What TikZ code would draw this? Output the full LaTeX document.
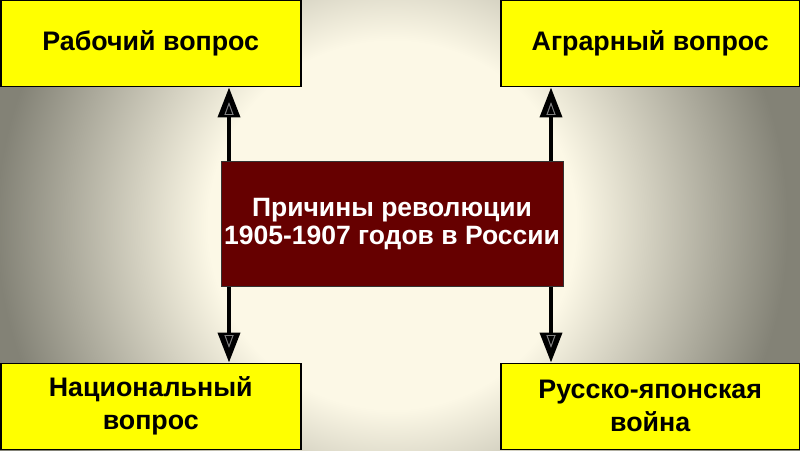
\documentclass[tikz,border=0pt]{standalone}
\usepackage{fontspec}
\setmainfont{Liberation Sans}
\usetikzlibrary{arrows.meta,calc}
\definecolor{boxyellow}{HTML}{FFFF00}
\definecolor{causered}{HTML}{660000}
\definecolor{bgcream}{HTML}{FCF8E6}
\definecolor{bggray}{HTML}{838276}
\pgfdeclareradialshading{slidebg}{\pgfpoint{0bp}{0bp}}{color(0bp)=(bgcream); color(10bp)=(bgcream); color(21.5bp)=(bggray); color(50bp)=(bggray)}

\begin{document}
\begin{tikzpicture}[x=1pt,y=1pt,
    issue/.style={draw=black, line width=1.5pt, fill=boxyellow, minimum width=300pt,
      minimum height=86pt, inner sep=0pt, align=center,
      font=\fontsize{26.8}{33}\selectfont\bfseries},
    cause/.style={draw=black!80, line width=1pt, fill=causered, text=white,
      minimum width=342pt, minimum height=125pt, inner sep=0pt, align=center,
      font=\fontsize{26.5}{28}\selectfont\bfseries},
    link/.style={line width=4pt, -{Triangle[width=22pt,length=30pt]}},
    hollow/.style={draw=gray, line width=0.7pt}]
  \useasboundingbox (0,0) rectangle (800,450);
  % background
  \begin{scope}
    \clip (0,0) rectangle (800,450);
    \shade[shading=slidebg] (-68,-235) rectangle (852,685);
  \end{scope}

  % boxes
  \node[cause] (cause) at (392,225.5) {Причины революции\\1905-1907 годов в России};
  \node[issue, anchor=north west] (work) at (0,450) {Рабочий вопрос};
  \node[issue, anchor=north west, minimum width=299pt] (land) at (500,450) {Аграрный вопрос};
  \node[issue, anchor=south west] (natl) at (0,0) {Национальный\\вопрос};
  \node[issue, anchor=south west, minimum width=299pt] (war) at (500,0) {Русско-японская\\война};

  % connectors
  \coordinate (lx) at (229,0);
  \coordinate (rx) at (551,0);
  \draw[link] (cause.north -| lx) -- (work.south -| lx);
  \draw[link] (cause.north -| rx) -- (land.south -| rx);
  \draw[link] (cause.south -| lx) -- (natl.north -| lx);
  \draw[link] (cause.south -| rx) -- (war.north -| rx);

  % hollow marks inside the heads
  \foreach \b in {work,land}
    \foreach \x in {lx,rx}
      \path[hollow] ($(\b.south -| \x)+(0,-16)$) -- ++(-4,-11) -- ++(8,0) -- cycle;
  \foreach \b in {natl,war}
    \foreach \x in {lx,rx}
      \path[hollow] ($(\b.north -| \x)+(0,16)$) -- ++(-4,11) -- ++(8,0) -- cycle;
\end{tikzpicture}
\end{document}
